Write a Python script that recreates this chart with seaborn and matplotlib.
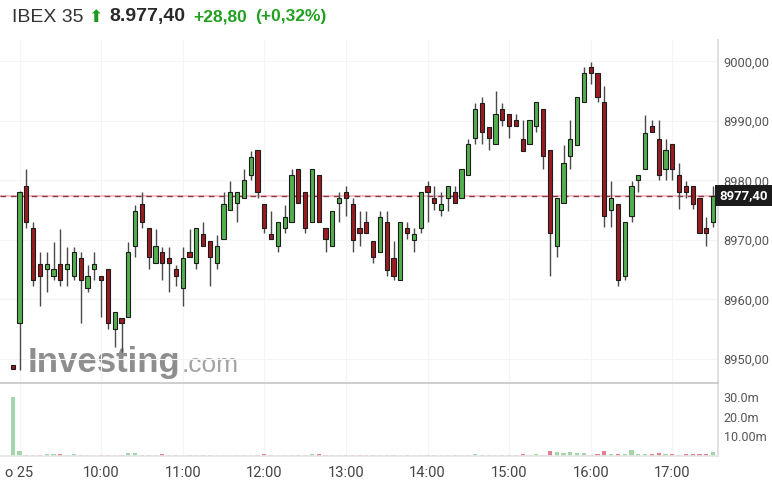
import numpy as np
import pandas as pd
import matplotlib
matplotlib.use("Agg")
import matplotlib.pyplot as plt
import matplotlib.transforms as mtransforms
import seaborn as sns

# 5-minute candles, first one is the opening auction (previous close level)
opens = [8949.0, 8956.0, 8979.0, 8972.0, 8965.9, 8965.1, 8964.0, 8965.9, 8965.1, 8964.0, 8966.9,
         8962.0, 8965.1, 8964.0, 8965.1, 8955.0, 8956.9, 8957.1, 8969.0, 8976.0, 8972.0,
         8966.1, 8968.0, 8966.9, 8965.1, 8962.0, 8968.0, 8966.1, 8971.0, 8969.9, 8966.1,
         8970.1, 8975.0, 8976.2, 8977.0, 8981.0, 8985.1, 8976.0, 8971.0, 8969.0, 8972.0,
         8973.0, 8982.0, 8978.1, 8973.0, 8981.0, 8972.0, 8969.0, 8976.2, 8978.1, 8976.0,
         8972.0, 8973.0, 8969.9, 8967.9, 8973.1, 8966.9, 8963.2, 8972.0, 8970.0, 8972.0,
         8979.0, 8977.0, 8975.0, 8977.0, 8978.1, 8977.0, 8981.0, 8987.1, 8993.0, 8989.0,
         8986.1, 8992.0, 8991.1, 8990.1, 8986.9, 8986.1, 8989.2, 8992.0, 8985.1, 8969.0,
         8976.2, 8984.1, 8986.0, 8993.1, 8999.1, 8998.1, 8993.1, 8975.0, 8976.1, 8963.9,
         8974.1, 8980.1, 8982.0, 8989.1, 8986.9, 8982.0, 8986.1, 8981.0, 8979.0, 8979.0,
         8977.0, 8972.0, 8973.0]
highs = [8949.0, 8978.2, 8982.0, 8973.0, 8967.9, 8967.9, 8969.7, 8971.9, 8968.9, 8968.9, 8967.9,
         8965.8, 8967.9, 8964.0, 8965.1, 8957.9, 8956.9, 8969.7, 8975.9, 8978.0, 8972.0,
         8971.9, 8968.9, 8968.9, 8965.8, 8968.9, 8971.9, 8972.0, 8973.0, 8969.9, 8970.8,
         8978.0, 8979.9, 8978.1, 8982.0, 8985.0, 8985.1, 8976.0, 8974.9, 8973.1, 8975.9,
         8982.0, 8982.0, 8978.1, 8982.0, 8981.0, 8972.0, 8974.9, 8978.0, 8979.0, 8977.0,
         8974.9, 8974.9, 8969.9, 8974.9, 8974.9, 8969.9, 8973.1, 8973.0, 8972.0, 8978.1,
         8979.9, 8979.0, 8978.0, 8979.0, 8979.0, 8982.0, 8986.9, 8993.0, 8994.0, 8989.0,
         8995.0, 8993.0, 8991.1, 8991.1, 8990.1, 8990.1, 8993.1, 8992.0, 8985.1, 8977.0,
         8986.0, 8990.1, 8994.1, 8999.1, 8999.9, 8998.1, 8995.9, 8979.9, 8976.1, 8973.1,
         8979.9, 8981.0, 8991.0, 8990.1, 8990.1, 8986.9, 8986.1, 8982.9, 8979.9, 8979.0,
         8977.0, 8973.9, 8979.0]
lows = [8948.4, 8948.2, 8972.0, 8962.2, 8958.9, 8961.2, 8963.2, 8962.2, 8962.2, 8963.2, 8956.0,
        8961.2, 8963.2, 8957.1, 8955.0, 8952.1, 8951.1, 8957.1, 8967.2, 8972.0, 8965.1,
        8966.1, 8963.2, 8961.2, 8962.2, 8958.9, 8967.1, 8965.1, 8969.0, 8962.2, 8965.1,
        8970.1, 8975.0, 8973.1, 8977.0, 8980.1, 8977.0, 8971.1, 8970.1, 8968.0, 8971.1,
        8973.0, 8976.2, 8971.1, 8973.0, 8973.0, 8968.0, 8969.0, 8973.0, 8974.1, 8968.0,
        8969.0, 8971.1, 8966.1, 8967.9, 8964.0, 8963.2, 8963.2, 8970.1, 8968.0, 8971.1,
        8973.1, 8975.0, 8974.1, 8974.9, 8976.2, 8977.0, 8981.0, 8986.1, 8986.1, 8985.1,
        8986.1, 8989.2, 8987.1, 8989.2, 8985.0, 8986.1, 8988.2, 8982.0, 8964.0, 8967.2,
        8976.2, 8982.0, 8986.0, 8993.1, 8996.2, 8993.1, 8972.1, 8972.1, 8962.2, 8963.2,
        8973.1, 8978.1, 8982.0, 8988.1, 8980.1, 8980.1, 8980.1, 8975.2, 8977.0, 8975.2,
        8971.1, 8969.0, 8972.1]
closes = [8948.4, 8978.1, 8973.0, 8963.2, 8964.0, 8965.9, 8965.1, 8963.2, 8965.9, 8968.0, 8963.2,
          8964.0, 8965.9, 8963.2, 8956.0, 8957.9, 8956.0, 8968.0, 8974.9, 8973.0, 8967.2,
          8969.0, 8966.1, 8966.1, 8964.0, 8966.9, 8967.1, 8972.0, 8969.0, 8967.1, 8969.0,
          8976.0, 8978.1, 8978.1, 8980.1, 8984.0, 8978.0, 8972.0, 8970.1, 8973.1, 8973.9,
          8981.0, 8976.2, 8972.0, 8982.0, 8973.0, 8970.1, 8974.9, 8977.0, 8977.0, 8970.0,
          8971.1, 8971.1, 8967.1, 8973.9, 8965.0, 8964.0, 8973.1, 8971.1, 8971.0, 8978.1,
          8978.0, 8976.2, 8976.0, 8979.0, 8976.2, 8982.0, 8986.1, 8992.0, 8988.1, 8987.1,
          8991.1, 8990.1, 8989.2, 8989.2, 8985.0, 8990.1, 8993.1, 8984.1, 8971.1, 8977.0,
          8982.9, 8986.9, 8994.1, 8998.1, 8998.0, 8994.0, 8974.1, 8977.0, 8963.2, 8973.1,
          8979.0, 8981.0, 8988.0, 8988.1, 8981.0, 8985.1, 8982.0, 8978.0, 8978.0, 8976.1,
          8971.1, 8971.1, 8977.4]
# volume in millions
volumes = [30.0, 2.4, 0.4, 0.5, 0.6, 0.9, 0.8, 1.0, 0.6, 0.9, 0.4,
           0.5, 0.4, 0.4, 0.5, 0.4, 0.5, 1.7, 1.6, 0.5, 0.5,
           0.4, 1.0, 0.5, 0.4, 0.5, 0.4, 0.4, 0.5, 0.5, 0.4,
           0.4, 0.4, 0.3, 0.4, 0.4, 0.5, 1.0, 0.5, 0.4, 0.4,
           0.4, 0.5, 0.6, 1.2, 1.1, 0.5, 0.4, 0.4, 0.5, 0.4,
           0.4, 0.5, 0.4, 0.4, 0.5, 0.4, 0.4, 0.4, 0.3, 0.4,
           0.4, 0.4, 0.3, 0.4, 0.4, 0.5, 0.6, 1.0, 0.6, 0.5,
           0.5, 0.5, 0.4, 0.5, 1.0, 0.6, 1.0, 0.6, 2.4, 1.8,
           1.5, 1.8, 1.4, 1.3, 0.6, 1.0, 2.5, 1.2, 1.2, 1.0,
           2.9, 1.2, 1.1, 0.8, 1.7, 1.0, 1.0, 0.7, 0.9, 1.0,
           1.0, 1.0, 1.8]

hour_labels = ["o 25", "10:00", "11:00", "12:00", "13:00", "14:00", "15:00", "16:00", "17:00"]
price_ticks = [8950, 8960, 8970, 8980, 8990, 9000]
vol_ticks = [10, 20, 30]
vol_tick_labels = ["10.00m", "20.0m", "30.0m"]
last_price = 8977.4

df = pd.DataFrame({"open": opens, "high": highs, "low": lows, "close": closes, "volume": volumes})
df["idx"] = np.arange(len(df)) - 1
df["up"] = df["close"] > df["open"]
# volume colour: the auction bar counts as up
df["vol_up"] = df["up"]
df.loc[0, "vol_up"] = True

sns.set_theme(style="white")
plt.rcParams["font.family"] = ["Roboto", "DejaVu Sans"]

W, H = 772, 494
fig = plt.figure(figsize=(W / 100, H / 100), dpi=100)


def box(l, t, r, b):
    return [l / W, 1 - b / H, (r - l) / W, (b - t) / H]


ax = fig.add_axes(box(0, 40, 718, 383))
axv = fig.add_axes(box(0, 383, 718, 456), sharex=ax)

# candles
body_col = np.where(df["up"], "#54b04e", "#9b1c1f")
ax.vlines(df["idx"], df["low"], df["high"], color="#4a4a4a", lw=1, zorder=2)
body_lo = np.minimum(df["open"], df["close"])
body_h = np.maximum((df["close"] - df["open"]).abs(), 0.3)
ax.bar(df["idx"], body_h, bottom=body_lo, width=0.64, color=body_col,
       edgecolor="#1c1c1c", linewidth=0.8, zorder=3)

# last price line
ax.axhline(last_price, color="#f3b9c2", lw=1.3, zorder=1.5)
ax.axhline(last_price, color="#8a3a44", lw=1.0, dashes=(4, 3.5), zorder=1.6)
trans = mtransforms.blended_transform_factory(ax.transAxes, ax.transData)
ax.text(1.002, last_price, "8977,40", transform=trans, ha="left", va="center",
        color="white", fontsize=9.5, fontweight="bold", clip_on=False, zorder=5,
        bbox=dict(boxstyle="square,pad=0.3", fc="#1b1b1b", ec="none"))

hour_pos = [12 * h for h in range(len(hour_labels))]
ax.set_xlim(-2.87, 102.72)
ax.set_ylim(8945.97, 9003.6)
ax.set_xticks(hour_pos)
ax.tick_params(axis="x", labelbottom=False, length=0)
ax.yaxis.tick_right()
ax.set_yticks(price_ticks)
ax.set_yticklabels([f"{v:.2f}".replace(".", ",") for v in price_ticks])
ax.tick_params(axis="y", length=0, pad=4, labelsize=9.3, labelcolor="#555555")
ax.grid(True, color="#f4f4f4", lw=0.8)
for s in ["top", "left", "bottom"]:
    ax.spines[s].set_visible(False)
ax.spines["right"].set_color("#dddddd")

# watermark
ax.text(28 / 718, 11 / 343, "Investing", transform=ax.transAxes, fontsize=25,
        fontweight="bold", color="#8e8e8e", family="Liberation Sans",
        va="baseline", ha="left", zorder=0.5)
ax.text(182 / 718, 11 / 343, ".com", transform=ax.transAxes, fontsize=19,
        color="#a3a3a3", family="Liberation Sans", va="baseline", ha="left", zorder=0.5)

# volume
vol_col = np.where(df["vol_up"], "#a3d6a8", "#e3808d")
axv.bar(df["idx"], df["volume"], width=0.64, color=vol_col, linewidth=0)
axv.set_ylim(0, 37.4)
axv.yaxis.tick_right()
axv.set_yticks(vol_ticks)
axv.set_yticklabels(vol_tick_labels)
axv.tick_params(axis="y", length=0, pad=4, labelsize=9, labelcolor="#555555")
axv.set_xticks(hour_pos)
axv.set_xticklabels(hour_labels)
axv.tick_params(axis="x", length=0, pad=7, labelsize=10.5, labelcolor="#444444")
axv.grid(True, axis="x", color="#f4f4f4", lw=0.8)
axv.spines["left"].set_visible(False)
axv.spines["top"].set_color("#c8c8c8")
axv.spines["right"].set_color("#dddddd")
axv.spines["bottom"].set_color("#e6e6e6")

# header
ty = 1 - 17 / H
fig.text(12 / W, ty, "IBEX 35", fontsize=14, color="#333333", family="Liberation Sans", va="center")
fig.text(88 / W, ty, "\u2b06", fontsize=12.5, color="#1d9a1d", family="DejaVu Sans", va="center")
fig.text(109 / W, ty, "8.977,40", fontsize=14, fontweight="bold", color="#2a2a2a",
         family="Liberation Sans", va="center")
fig.text(193 / W, ty, "+28,80", fontsize=12.5, fontweight="bold", color="#22a022",
         family="Liberation Sans", va="center")
fig.text(255 / W, ty, "(+0,32%)", fontsize=12.5, fontweight="bold", color="#22a022",
         family="Liberation Sans", va="center")

fig.savefig("out.png", dpi=100, facecolor="white")
